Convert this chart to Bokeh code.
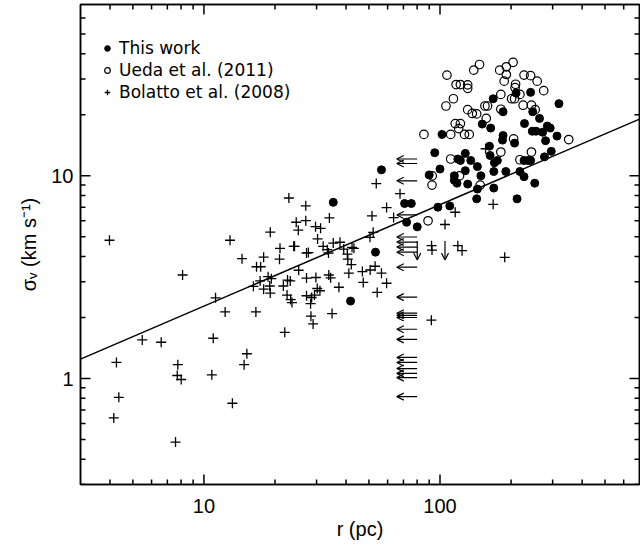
import numpy as np
from bokeh.plotting import figure
from bokeh.models import (ColumnDataSource, LogAxis, FixedTicker, BasicTickFormatter,
                          CustomJSTickFormatter, Arrow, OpenHead, Legend, LegendItem, Range1d)
from bokeh.embed import file_html
from bokeh.resources import INLINE

# ---------------- data (r in pc, sigma_v in km/s) ----------------
this_r = [168, 242, 210, 319, 185, 247, 264, 151, 164, 228, 246, 255, 272, 285, 293, 102, 313, 280, 185, 184,
          207, 162, 95, 128, 119, 122, 135, 163, 175, 170, 296, 277, 227, 236, 100, 128, 144, 169, 190, 218,
          227, 90, 115, 115, 118, 131, 149, 144, 169, 252, 143, 212, 98, 110, 70.8, 75.6, 72.2, 80.1, 56.5, 53.3,
          41.8, 35.3, 242]
this_s = [24.0, 25.8, 25.6, 22.7, 20.7, 20.7, 19.2, 18.0, 17.2, 18.1, 16.6, 16.6, 16.4, 17.6, 17.2, 16.0, 15.7, 14.9, 15.8, 15.0,
          14.5, 14.0, 13.0, 12.9, 12.1, 11.9, 11.9, 12.6, 11.9, 11.6, 13.2, 12.4, 11.9, 11.9, 10.8, 10.6, 11.1, 10.5, 10.5, 10.5,
          9.9, 10.1, 10.0, 9.5, 9.2, 9.1, 10.0, 8.6, 8.7, 9.2, 7.7, 7.7, 7.0, 7.1, 7.3, 7.3, 5.9, 5.6, 10.7, 4.2,
          2.41, 7.4, 11.9]

ueda_r = [107, 117, 122, 131, 131, 139, 147, 179, 191, 204, 191, 187, 209, 208, 227, 242, 258, 275, 181, 201,
          207, 218, 114, 106, 131, 137, 143, 155, 159, 181, 225, 244, 253, 157, 116, 122, 120, 127, 133, 111,
          85.5, 205, 351, 181, 244, 111, 218, 92.7, 92.5, 121, 148, 89]
ueda_s = [31.4, 28.2, 28.2, 28.1, 27.0, 33.2, 35.4, 33.2, 34.5, 36.3, 31.6, 29.3, 28.3, 27.2, 31.4, 31.2, 29.3, 26.3, 25.2, 24.0,
          24.0, 25.2, 24.0, 22.1, 21.2, 20.3, 20.2, 22.1, 22.1, 21.3, 22.3, 22.3, 21.2, 19.2, 18.1, 18.1, 17.1, 16.0, 16.0, 16.0,
          16.0, 15.2, 15.1, 13.1, 13.1, 12.1, 12.0, 10.0, 9.0, 10.0, 9.0, 6.0]

bol_r = [3.98, 4.15, 4.26, 4.36, 5.48, 6.59, 7.75, 7.71, 8.01, 7.58, 10.95, 10.8, 12.3, 13.2, 14.8, 15.2, 16.6, 22.0,
         8.12, 12.9, 11.2, 14.5, 19.1, 22.9, 21.0, 17.9, 16.7, 17.4, 24.0, 24.6, 25.1, 16.2, 17.3, 18.7, 19.3,
         17.9, 19.0, 19.1, 21.7, 22.6, 23.2, 22.5, 23.3, 23.6, 25.2, 27.0, 27.0, 34.0, 29.7, 31.2, 51.5, 30.3,
         35.3, 37.7, 32.0, 33.3, 24.2, 20.9, 27.2, 27.7, 33.7, 39.1, 40.5, 42.4, 43.2, 52.1, 40.7, 42.1, 27.2,
         29.8, 33.8, 34.4, 41.1, 46.9, 47.3, 50.6, 53.1, 37.3, 30.2, 31.0, 27.2, 28.6, 29.4, 28.3, 34.9, 28.4,
         29.0, 54.2, 53.7, 67.7, 59.4, 63.6, 50.5, 56.5, 59.4, 105, 92.1, 92.5, 91.9, 156, 116, 168, 119, 124, 188]
bol_s = [4.81, 0.639, 1.20, 0.808, 1.55, 1.51, 1.17, 1.035, 0.989, 0.486, 1.58, 1.043, 2.13, 0.755, 1.17, 1.325, 2.13, 1.69,
         3.24, 4.81, 2.50, 3.90, 5.27, 7.77, 4.39, 3.97, 3.56, 3.56, 4.49, 5.90, 5.39, 2.85, 3.03, 3.18, 3.11,
         2.76, 2.86, 2.64, 2.86, 3.06, 3.03, 2.58, 2.45, 2.37, 3.42, 7.11, 6.01, 6.20, 5.61, 5.51, 6.34, 4.88,
         4.66, 4.70, 4.49, 4.32, 4.49, 3.88, 4.16, 4.18, 4.16, 4.35, 4.11, 4.44, 4.39, 5.26, 3.88, 3.65, 3.13,
         3.15, 3.24, 3.14, 3.31, 3.37, 2.98, 3.43, 3.58, 2.82, 2.78, 2.71, 2.56, 2.51, 2.58, 2.34, 2.09, 2.03,
         1.86, 2.66, 9.16, 8.16, 6.97, 6.22, 4.97, 3.31, 2.95, 5.75, 4.52, 4.30, 1.94, 13.6, 6.61, 7.23, 4.52, 4.27, 3.96]

# upper limits in size (left arrows) for unresolved Bolatto clouds
lim_r_value = 80.0
lim_s = [12.1, 11.5, 9.45, 6.41, 4.99, 4.71, 4.45, 4.20, 3.54, 2.52, 2.10, 2.05, 2.00, 1.75, 1.56,
         1.27, 1.20, 1.12, 1.06, 1.01, 0.814]
# upper limits in velocity dispersion (down arrows)
dlim_r = [80.1, 105]
dlim_s = [4.77, 4.77]

# Larson-type relation sigma = A * r^0.5
fit_A = 0.72
fit_slope = 0.5

x_lo, x_hi = 3, 700
y_lo, y_hi = 0.3, 70
x_major = [10, 100]
y_major = [1, 10]

FONT = "Liberation Sans"

W, H = 640, 542
BL, BR, BT, BB = 80, 1, 4, 58

p = figure(width=W, height=H, x_axis_type="log", y_axis_type="log",
           x_range=Range1d(x_lo, x_hi), y_range=Range1d(y_lo, y_hi),
           output_backend="svg", toolbar_location=None,
           min_border_left=BL, min_border_right=BR, min_border_top=BT, min_border_bottom=BB)
p.grid.visible = False
p.outline_line_color = "black"
p.outline_line_width = 1.5
p.background_fill_color = "white"
p.border_fill_color = "white"


def minors(lo, hi):
    out = []
    for e in range(-2, 4):
        for m in range(2, 10):
            v = m * 10.0 ** e
            if lo < v < hi:
                out.append(v)
    return out


x_minor = minors(x_lo, x_hi)
y_minor = minors(y_lo, y_hi)
xt = FixedTicker(ticks=x_major, minor_ticks=x_minor)
yt = FixedTicker(ticks=y_major, minor_ticks=y_minor)


def style_axis(ax):
    ax.axis_line_width = 1.5
    ax.major_tick_in = 0
    ax.major_tick_out = 0
    ax.minor_tick_in = 0
    ax.minor_tick_out = 0
    ax.major_label_text_font = FONT
    ax.major_label_text_font_size = "20px"
    ax.major_label_text_color = "black"
    ax.axis_label_text_font = FONT
    ax.axis_label_text_font_size = "20px"
    ax.axis_label_text_font_style = "normal"
    ax.axis_label_text_color = "black"


xa = p.xaxis[0]
xa.ticker = xt
xa.formatter = BasicTickFormatter()
xa.axis_label = "r (pc)"
style_axis(xa)
xa.major_label_standoff = 14
xa.axis_label_standoff = 2

ya = p.yaxis[0]
ya.ticker = yt
ya.formatter = BasicTickFormatter()
ya.axis_label = "σᵥ (km s⁻¹)"
style_axis(ya)
ya.major_label_standoff = 7
ya.axis_label_standoff = 8

blank = CustomJSTickFormatter(code="return ''")
top = LogAxis(ticker=xt, formatter=blank)
style_axis(top)
top.major_label_text_font_size = "0px"
top.major_label_standoff = 0
right = LogAxis(ticker=yt, formatter=blank)
style_axis(right)
right.major_label_text_font_size = "0px"
right.major_label_standoff = 0
p.add_layout(top, "above")
p.add_layout(right, "right")

# inward tick marks drawn as short segments from the four frame edges
px_per_dec_x = (W - BL - BR) / np.log10(x_hi / x_lo)
px_per_dec_y = (H - BT - BB - 2) / np.log10(y_hi / y_lo)
MAJ, MIN = 10.0, 5.0
fx_maj, fx_min = 10 ** (MAJ / px_per_dec_x), 10 ** (MIN / px_per_dec_x)
fy_maj, fy_min = 10 ** (MAJ / px_per_dec_y), 10 ** (MIN / px_per_dec_y)
TW = 1.5
TC = "black"
for vals, f in ((y_major, fx_maj), (y_minor, fx_min)):
    n = len(vals)
    p.segment(x0=[x_lo] * n, y0=vals, x1=[x_lo * f] * n, y1=vals, line_width=TW, line_color=TC)
    p.segment(x0=[x_hi] * n, y0=vals, x1=[x_hi / f] * n, y1=vals, line_width=TW, line_color=TC)
for vals, f in ((x_major, fy_maj), (x_minor, fy_min)):
    n = len(vals)
    p.segment(x0=vals, y0=[y_lo] * n, x1=vals, y1=[y_lo * f] * n, line_width=TW, line_color=TC)
    p.segment(x0=vals, y0=[y_hi] * n, x1=vals, y1=[y_hi / f] * n, line_width=TW, line_color=TC)

# fit line
fxl = np.array([x_lo, x_hi], dtype=float)
p.line(fxl, fit_A * fxl ** fit_slope, line_color="black", line_width=1.5)

r_ueda = p.scatter(ueda_r, ueda_s, marker="circle", size=8.5, fill_color=None,
                   line_color="black", line_width=1.2)
r_bol = p.scatter(bol_r, bol_s, marker="cross", size=10, line_color="black", line_width=1.3)
r_this = p.scatter(this_r, this_s, marker="circle", size=8, fill_color="black",
                   line_color="black")

# left arrows (upper limits in r)
lsrc = ColumnDataSource(dict(x0=[lim_r_value] * len(lim_s), x1=[lim_r_value * 0.82] * len(lim_s), y=lim_s))
p.add_layout(Arrow(end=OpenHead(size=7, line_width=1.2, line_color="black"),
                   x_start="x0", y_start="y", x_end="x1", y_end="y", source=lsrc,
                   line_width=1.2, line_color="black"))
# down arrows (upper limits in sigma)
ds = np.array(dlim_s)
dsrc = ColumnDataSource(dict(x=dlim_r, y0=ds, y1=ds * 0.805))
p.add_layout(Arrow(end=OpenHead(size=7, line_width=1.2, line_color="black"),
                   x_start="x", y_start="y0", x_end="x", y_end="y1", source=dsrc,
                   line_width=1.2, line_color="black"))

legend = Legend(items=[LegendItem(label="This work", renderers=[r_this]),
                       LegendItem(label="Ueda et al. (2011)", renderers=[r_ueda]),
                       LegendItem(label="Bolatto et al. (2008)", renderers=[r_bol])],
                location=(20, 382), border_line_color=None, background_fill_alpha=0,
                label_text_font="DejaVu Sans", label_text_font_size="17px", label_text_color="black",
                glyph_width=14, glyph_height=20, label_height=20, spacing=2,
                padding=9, margin=0, label_standoff=5)
p.add_layout(legend)

open("out.html", "w").write(file_html(p, INLINE))
